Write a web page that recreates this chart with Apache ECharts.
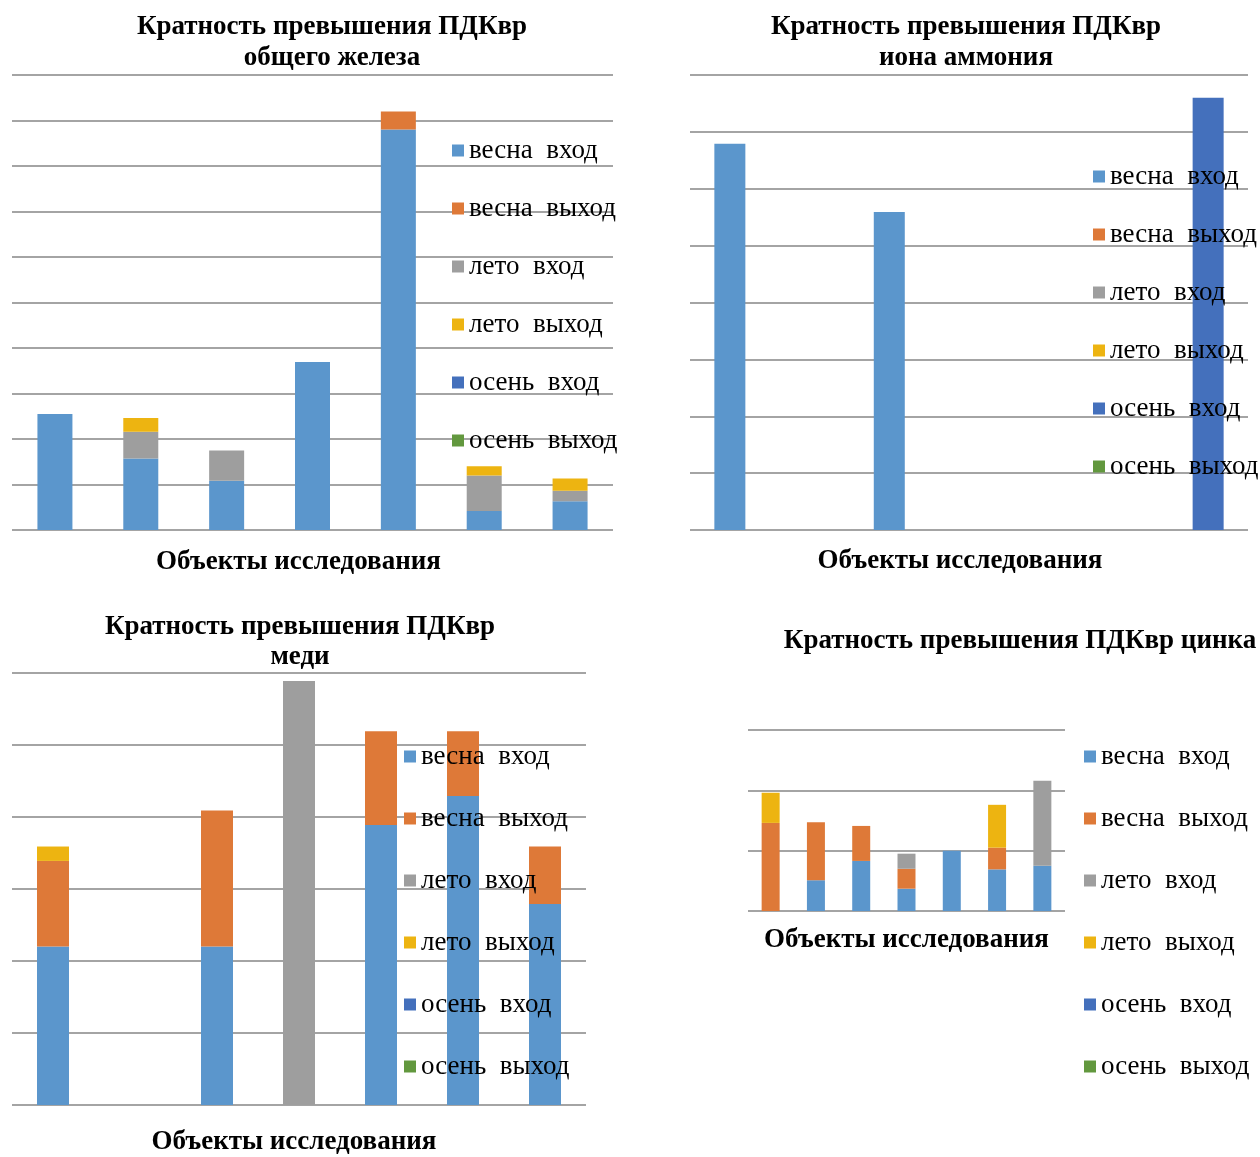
<!DOCTYPE html>
<html>
<head>
<meta charset="utf-8">
<script src="https://cdn.jsdelivr.net/npm/echarts@6/dist/echarts.min.js"></script>
<style>
html,body{margin:0;padding:0;background:#fff;}
#chart{width:1260px;height:1157px;}
</style>
</head>
<body>
<div id="chart"></div>
<script>
// ---- data ----
const categories = ['1', '2', '3', '4', '5', '6', '7'];
const seriesNames = ['весна  вход', 'весна  выход', 'лето  вход', 'лето  выход', 'осень  вход', 'осень  выход'];
const seriesColors = ['#5b96cc', '#de7938', '#9e9e9e', '#edb411', '#4470bc', '#62983e'];

const chartTitles = [
  'Кратность превышения ПДКвр\nобщего железа',
  'Кратность превышения ПДКвр\nиона аммония',
  'Кратность превышения ПДКвр\nмеди',
  'Кратность превышения ПДКвр цинка'
];
const axisTitle = 'Объекты исследования';

// iron
const ironSpringIn  = [2.55, 1.57, 1.08, 3.69, 8.80, 0.42, 0.63];
const ironSpringOut = [0, 0, 0, 0, 0.40, 0, 0];
const ironSummerIn  = [0, 0.59, 0.67, 0, 0, 0.78, 0.23];
const ironSummerOut = [0, 0.30, 0, 0, 0, 0.20, 0.27];
const ironAutumnIn  = [0, 0, 0, 0, 0, 0, 0];
const ironAutumnOut = [0, 0, 0, 0, 0, 0, 0];

// ammonium
const ammSpringIn  = [6.79, 0, 5.59, 0, 0, 0, 0];
const ammSpringOut = [0, 0, 0, 0, 0, 0, 0];
const ammSummerIn  = [0, 0, 0, 0, 0, 0, 0];
const ammSummerOut = [0, 0, 0, 0, 0, 0, 0];
const ammAutumnIn  = [0, 0, 0, 0, 0, 0, 7.60];
const ammAutumnOut = [0, 0, 0, 0, 0, 0, 0];

// copper
const cuSpringIn  = [2.20, 0, 2.20, 0, 3.89, 4.29, 2.79];
const cuSpringOut = [1.19, 0, 1.89, 0, 1.30, 0.90, 0.80];
const cuSummerIn  = [0, 0, 0, 5.89, 0, 0, 0];
const cuSummerOut = [0.20, 0, 0, 0, 0, 0, 0];
const cuAutumnIn  = [0, 0, 0, 0, 0, 0, 0];
const cuAutumnOut = [0, 0, 0, 0, 0, 0, 0];

// zinc
const znSpringIn  = [0, 0.51, 0.83, 0.37, 1.00, 0.69, 0.75];
const znSpringOut = [1.46, 0.96, 0.58, 0.33, 0, 0.36, 0];
const znSummerIn  = [0, 0, 0, 0.25, 0, 0, 1.41];
const znSummerOut = [0.50, 0, 0, 0, 0, 0.71, 0];
const znAutumnIn  = [0, 0, 0, 0, 0, 0, 0];
const znAutumnOut = [0, 0, 0, 0, 0, 0, 0];

const yMax = [10, 8, 6, 3];

// ---- layout ----
const FONT = '"Liberation Serif", "Times New Roman", serif';
const panels = [
  { grid: {left: 12, top: 75, width: 601, height: 455}, barWidth: 35,
    title: {cx: 332, top: 12, lh: 31}, legend: {left: 452, top: 137, gap: 31},
    axisName: {gap: 18, shift: 28},
    data: [ironSpringIn, ironSpringOut, ironSummerIn, ironSummerOut, ironAutumnIn, ironAutumnOut] },
  { grid: {left: 690, top: 75, width: 558, height: 455}, barWidth: 31,
    title: {cx: 966, top: 12, lh: 31}, legend: {left: 1093, top: 163, gap: 31},
    axisName: {gap: 17, shift: 18},
    data: [ammSpringIn, ammSpringOut, ammSummerIn, ammSummerOut, ammAutumnIn, ammAutumnOut] },
  { grid: {left: 12, top: 673, width: 574, height: 437}, barWidth: 32,
    title: {cx: 300, top: 612, lh: 30}, legend: {left: 404, top: 743, gap: 35},
    axisName: {gap: 23, shift: 10},
    data: [cuSpringIn, cuSpringOut, cuSummerIn, cuSummerOut, cuAutumnIn, cuAutumnOut] },
  { grid: {left: 748, top: 730, width: 317, height: 181}, barWidth: 18,
    title: {cx: 1020, top: 626, lh: 30}, legend: {left: 1084, top: 743, gap: 35},
    axisName: {gap: 15, shift: 0},
    data: [znSpringIn, znSpringOut, znSummerIn, znSummerOut, znAutumnIn, znAutumnOut] }
];

const option = {
  backgroundColor: '#ffffff',
  animation: false,
  title: [], legend: [], grid: [], xAxis: [], yAxis: [], series: []
};

panels.forEach((p, i) => {
  option.title.push({
    text: chartTitles[i], left: p.title.cx, top: p.title.top, textAlign: 'center', padding: 0,
    textStyle: {fontFamily: FONT, fontSize: 27, fontWeight: 'bold', color: '#000', lineHeight: p.title.lh}
  });
  option.legend.push({
    orient: 'vertical', left: p.legend.left, top: p.legend.top, padding: 0,
    itemWidth: 12, itemHeight: 12, itemGap: p.legend.gap, icon: 'rect',
    selectedMode: false,
    data: seriesNames.slice(),
    textStyle: {fontFamily: FONT, fontSize: 27, color: '#000', lineHeight: 27}
  });
  option.grid.push(Object.assign({containLabel: false}, p.grid));
  option.xAxis.push({
    type: 'category', gridIndex: i, data: categories,
    axisLine: {show: false}, axisTick: {show: false}, axisLabel: {show: false},
    splitLine: {show: false},
    name: axisTitle, nameLocation: 'middle', nameGap: p.axisName.gap,
    nameTextStyle: {fontFamily: FONT, fontSize: 27, fontWeight: 'bold', color: '#000',
      lineHeight: 28, padding: [0, p.axisName.shift, 0, 0]}
  });
  option.yAxis.push({
    type: 'value', gridIndex: i, min: 0, max: yMax[i], interval: 1,
    axisLine: {show: false}, axisTick: {show: false}, axisLabel: {show: false},
    splitLine: {show: true, lineStyle: {color: '#a4a4a4', width: 2}}
  });
  seriesNames.forEach((name, k) => {
    option.series.push({
      type: 'bar', name: name, xAxisIndex: i, yAxisIndex: i, stack: 'panel' + i,
      barWidth: p.barWidth, data: p.data[k],
      itemStyle: {color: seriesColors[k]}
    });
  });
});

const chart = echarts.init(document.getElementById('chart'), null, {renderer: 'canvas'});
chart.setOption(option);
</script>
</body>
</html>
